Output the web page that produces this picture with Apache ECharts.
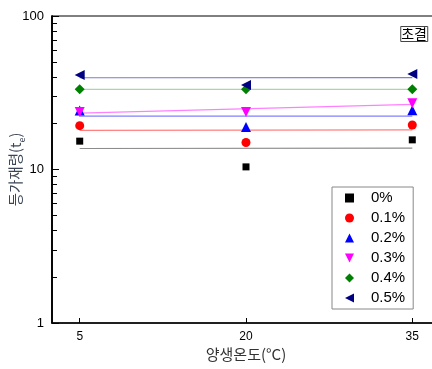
<!DOCTYPE html>
<html><head><meta charset="utf-8">
<script src="https://cdn.jsdelivr.net/npm/echarts@6/dist/echarts.min.js"></script>
<style>html,body{margin:0;padding:0;background:#fff}#c{width:432px;height:369px}</style>
</head><body><div id="c"></div>
<script>
const temps = [5, 20, 35];
const seriesNames = ['0%', '0.1%', '0.2%', '0.3%', '0.4%', '0.5%'];
const v0 = [15.3, 10.4, 15.6];
const v01 = [19.3, 15.0, 19.5];
const v02 = [24.2, 18.9, 24.3];
const v03 = [23.7, 23.7, 27.0];
const v04 = [33.3, 33.3, 33.3];
const v05 = [41.3, 35.5, 41.9];
// fitted line end values at 5 and 35 °C
const fit0 = [13.7, 13.8];
const fit01 = [18.0, 18.1];
const fit02 = [22.3, 22.3];
const fit03 = [23.3, 26.6];
const fit04 = [33.3, 33.3];
const fit05 = [39.6, 39.7];
const fitX = [5, 35];
const yMajor = [1, 10, 100];
const yMinor = [2,3,4,5,6,7,8,9,20,30,40,50,60,70,80,90];

const allValues = [v0, v01, v02, v03, v04, v05];
const allFits = [fit0, fit01, fit02, fit03, fit04, fit05];
const markerColors = ['#000000', '#ff0000', '#0000ff', '#ff00ff', '#008000', '#000080'];
const lineColors = ['#8c8c8c', '#ff8080', '#8080ff', '#ff80ff', '#a8d8a8', '#8080c8'];
const symbols = ['rect', 'circle', 'triangle', 'path://M0,0 L10,0 L5,10 Z', 'diamond', 'path://M10,0 L10,10 L0,5 Z'];
const symSizes = [7, 9, 10, 10, 10, 10];

const FONT = 'Liberation Sans, Arial, Noto Sans CJK KR, sans-serif';
const series = [];
allFits.forEach((f, i) => {
  series.push({
    name: 'fit' + i, type: 'line', xAxisIndex: 0, yAxisIndex: 0,
    data: fitX.map((x, j) => [x, f[j]]),
    showSymbol: false, symbol: 'none', silent: true,
    lineStyle: { color: lineColors[i], width: 1.2 }, z: 2
  });
});
allValues.forEach((vals, i) => {
  series.push({
    name: seriesNames[i], type: 'scatter', xAxisIndex: 0, yAxisIndex: 0,
    data: temps.map((t, j) => [t, vals[j]]),
    symbol: symbols[i], symbolSize: symSizes[i],
    itemStyle: { color: markerColors[i], opacity: 1 }, z: 3 + i
  });
});

const chart = echarts.init(document.getElementById('c'), null, { renderer: 'canvas' });
chart.setOption({
  animation: false,
  backgroundColor: '#fff',
  textStyle: { fontFamily: FONT },
  title: {
    text: '초결', right: 4, top: 26,
    padding: [1, 1, 1, 1],
    borderColor: '#444', borderWidth: 1,
    textStyle: { fontSize: 14, fontWeight: 'normal', color: '#000', fontFamily: 'Noto Sans CJK KR' }
  },
  grid: { left: 52, top: 16, width: 388, bottom: 46, outerBoundsMode: 'none', containLabel: false,
    show: true, borderColor: '#000', borderWidth: 1, backgroundColor: 'transparent' },
  legend: {
    data: seriesNames.map((n, i) => ({ name: n, icon: symbols[i] })),
    orient: 'vertical', left: 332, top: 187,
    padding: [1, 8, 1, 13],
    itemWidth: 9, itemHeight: 9, itemGap: 0,
    borderColor: '#888', borderWidth: 1,
    textStyle: { fontSize: 15, lineHeight: 20, color: '#000', padding: [0, 0, 0, 12], fontFamily: FONT }
  },
  xAxis: [{
    type: 'value', min: 2.5, max: 37.5,
    name: '양생온도(°C)', nameLocation: 'middle', nameGap: 24, nameMoveOverlap: false,
    nameTextStyle: { fontSize: 15, color: '#333', fontFamily: 'Noto Sans CJK KR' },
    axisLine: { show: true, onZero: false, lineStyle: { color: '#000', width: 1.5 } },
    axisTick: { show: true, inside: true, length: 5, customValues: temps, lineStyle: { color: '#000', width: 1 } },
    axisLabel: { customValues: temps, fontSize: 12, color: '#000', margin: 8, fontFamily: FONT },
    splitLine: { show: false }
  }],
  yAxis: [{
    type: 'log', logBase: 10, min: 1, max: 100, position: 'left',
    axisLine: { show: true, onZero: false, lineStyle: { color: '#000', width: 1.5 } },
    axisTick: { show: true, inside: true, length: 5, customValues: yMinor, lineStyle: { color: '#000', width: 1 } },
    axisLabel: { show: false },
    splitLine: { show: false }
  }, {
    type: 'log', logBase: 10, min: 1, max: 100, position: 'left',
    name: '등가재령(t{s|e})', nameLocation: 'middle', nameGap: 29, nameRotate: 90, nameMoveOverlap: false,
    nameTextStyle: { fontSize: 14.5, color: '#3c4656', fontFamily: 'Noto Sans CJK KR',
      rich: { s: { fontSize: 9, color: '#3c4656', verticalAlign: 'bottom', padding: [0, 0, -3, 0] } } },
    axisLine: { show: true, onZero: false, lineStyle: { color: '#000', width: 1.5 } },
    axisTick: { show: true, inside: true, length: 7, customValues: yMajor, lineStyle: { color: '#000', width: 1 } },
    axisLabel: { customValues: yMajor, fontSize: 13, color: '#000', margin: 8, fontFamily: FONT },
    splitLine: { show: false }
  }],
  series: series
});
</script></body></html>
